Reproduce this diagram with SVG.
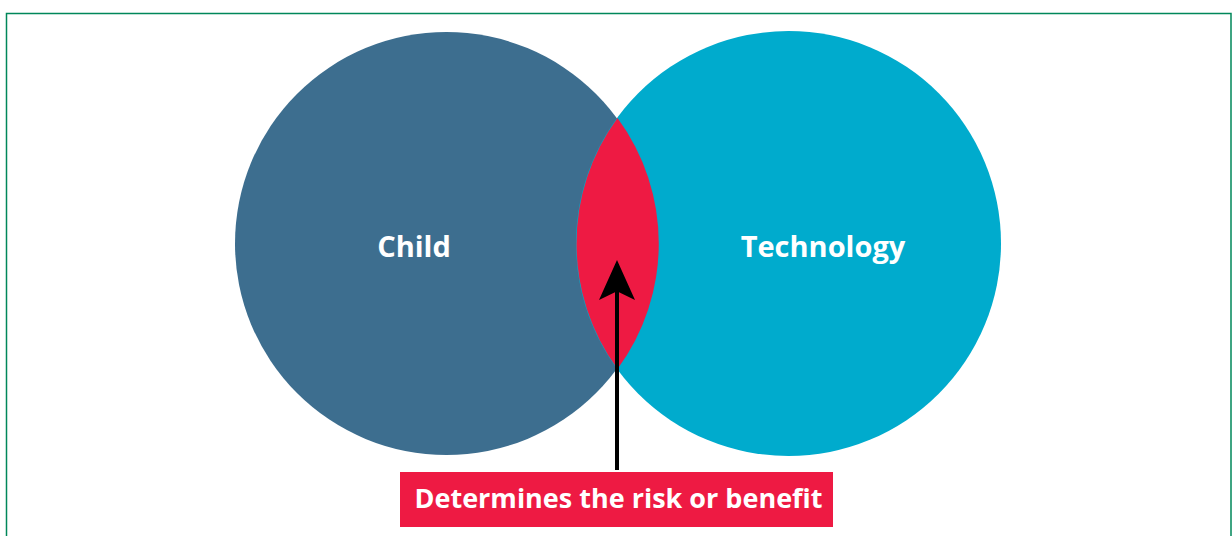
<svg xmlns="http://www.w3.org/2000/svg" width="1232" height="536" viewBox="0 0 1232 536">
<style>
.lbl{font-family:"Open Sans","Liberation Sans",sans-serif;font-weight:bold;fill:#ffffff;text-anchor:middle}
</style>
<defs>
<marker id="ah" markerWidth="10" markerHeight="9" refX="9" refY="4.5" orient="auto" markerUnits="strokeWidth">
<path d="M0,0 L10,4.5 L0,9 L2.2,4.5 Z" fill="#000"/>
</marker>
</defs>
<rect x="0" y="0" width="1232" height="536" fill="#ffffff"/>
<path d="M6.5,540 V13.5 H1231 V540" fill="none" stroke="#00875a" stroke-width="1.5"/>
<g id="child">
<circle cx="446.5" cy="243.5" r="211.5" fill="#3d6e8f"/>
<text class="lbl" x="414" y="257" font-size="29">Child</text>
</g>
<g id="technology">
<circle cx="788.5" cy="243.5" r="212.5" fill="#00abcd"/>
<text class="lbl" x="823" y="257" font-size="29">Technology</text>
</g>
<g id="overlap">
<path d="M617.5,118 A211.5,211.5 0 0,1 617.5,369 A212.5,212.5 0 0,1 617.5,118 Z" fill="#ee1a43"/>
</g>
<g id="connectors">
<line x1="617" y1="470" x2="617" y2="264" stroke="#000" stroke-width="4" marker-end="url(#ah)"/>
</g>
<g id="label">
<rect x="400" y="472" width="433" height="55" fill="#ee1a43"/>
<text class="lbl" x="618.5" y="508" font-size="27">Determines the risk or benefit</text>
</g>
</svg>
